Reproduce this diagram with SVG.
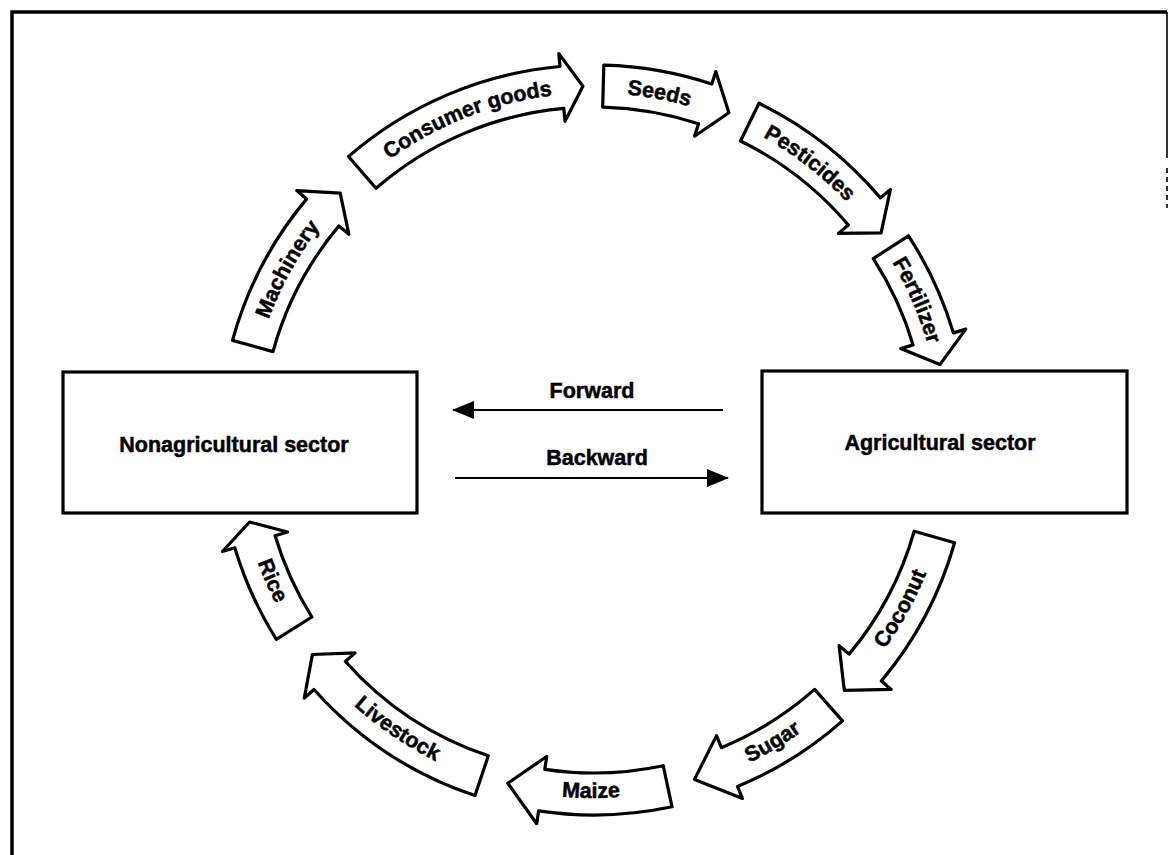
<svg xmlns="http://www.w3.org/2000/svg" xmlns:xlink="http://www.w3.org/1999/xlink" width="1169" height="855" viewBox="0 0 1169 855">
<style>
.frame{fill:none;stroke:#000;stroke-width:3.5}
.thin{fill:none;stroke:#000;stroke-width:1.6}
.box{fill:#fff;stroke:#000;stroke-width:3.2}
.arrow{fill:#fff;stroke:#000;stroke-width:3.2;stroke-linejoin:round}
.lbl{font-family:"Liberation Sans",Arial,sans-serif;font-weight:bold;font-size:21.5px;fill:#000;stroke:#000;stroke-width:0.5}
.link{fill:none;stroke:#000;stroke-width:2.2}
</style>
<defs>
<marker id="head" viewBox="0 0 22 18" refX="21" refY="9" markerWidth="22" markerHeight="18" markerUnits="userSpaceOnUse" orient="auto">
<path d="M0,0 L22,9 L0,18 Z" fill="#000"/>
</marker>
<path id="tp-mach" d="M247.9,415.2 A347,347 0 0 1 390.5,158.9"/>
<path id="tp-cons" d="M342.3,201.1 A347,347 0 0 1 615.2,93.7"/>
<path id="tp-seed" d="M508.3,103.8 A347,347 0 0 1 796.5,158.2"/>
<path id="tp-pest" d="M671.8,101.8 A347,347 0 0 1 903.0,282.2"/>
<path id="tp-fert" d="M824.4,180.5 A347,347 0 0 1 940.9,449.7"/>
<path id="tp-coco" d="M805.4,728.9 A358,358 0 0 0 951.2,463.7"/>
<path id="tp-suga" d="M628.9,796.3 A358,358 0 0 0 889.4,642.3"/>
<path id="tp-maiz" d="M439.9,763.1 A358,358 0 0 0 742.5,765.8"/>
<path id="tp-live" d="M286.5,623.3 A358,358 0 0 0 536.8,793.4"/>
<path id="tp-rice" d="M236.1,431.3 A358,358 0 0 0 357.3,708.5"/>
</defs>
<rect width="1169" height="855" fill="#fff"/>
<g id="frame">
<path class="frame" d="M12,855 V12 H1167"/>
<path class="thin" d="M1167,12 V158"/>
<path class="thin" d="M1167,168 V208" stroke-dasharray="5,4"/>
</g>
<g id="nonagricultural-sector">
<rect class="box" x="63" y="372" width="354" height="141"/>
<text class="lbl" x="234" y="452" text-anchor="middle">Nonagricultural sector</text>
</g>
<g id="agricultural-sector">
<rect class="box" x="762" y="371" width="365" height="142"/>
<text class="lbl" x="940" y="450" text-anchor="middle">Agricultural sector</text>
</g>
<g id="connectors">
<line class="link" x1="723" y1="410" x2="453" y2="410" marker-end="url(#head)"/>
<text class="lbl" x="592" y="398" text-anchor="middle">Forward</text>
<line class="link" x1="455" y1="478" x2="728" y2="478" marker-end="url(#head)"/>
<text class="lbl" x="597" y="465" text-anchor="middle">Backward</text>
</g>
<g id="machinery">
<path class="arrow" d="M232.5,340.4 A375,375 0 0 1 306.7,198.9 L296.8,190.6 L340.2,193.2 L348.9,234.3 L338.9,225.9 A333,333 0 0 0 273.0,351.6 Z"/>
<text class="lbl"><textPath xlink:href="#tp-mach" startOffset="50%" text-anchor="middle">Machinery</textPath></text>
</g>
<g id="consumer-goods">
<path class="arrow" d="M348.5,156.5 A375,375 0 0 1 560.0,66.5 L558.8,53.6 L582.9,86.2 L565.0,121.3 L563.8,108.4 A333,333 0 0 0 376.0,188.3 Z"/>
<text class="lbl"><textPath xlink:href="#tp-cons" startOffset="50%" text-anchor="middle">Consumer goods</textPath></text>
</g>
<g id="seeds">
<path class="arrow" d="M603.8,65.1 A375,375 0 0 1 711.8,84.0 L715.8,71.6 L728.9,112.7 L694.5,136.2 L698.6,123.8 A333,333 0 0 0 602.7,107.1 Z"/>
<text class="lbl"><textPath xlink:href="#tp-seed" startOffset="50%" text-anchor="middle">Seeds</textPath></text>
</g>
<g id="pesticides">
<path class="arrow" d="M759.0,103.2 A375,375 0 0 1 880.4,197.9 L890.4,189.5 L881.1,232.9 L838.4,233.4 L848.3,225.0 A333,333 0 0 0 740.5,141.0 Z"/>
<text class="lbl"><textPath xlink:href="#tp-pest" startOffset="50%" text-anchor="middle">Pesticides</textPath></text>
</g>
<g id="fertilizer">
<path class="arrow" d="M908.5,235.8 A375,375 0 0 1 953.4,332.9 L965.8,329.1 L939.9,364.6 L900.7,348.6 L913.1,344.9 A333,333 0 0 0 873.3,258.6 Z"/>
<text class="lbl"><textPath xlink:href="#tp-fert" startOffset="50%" text-anchor="middle">Fertilizer</textPath></text>
</g>
<g id="coconut">
<path class="arrow" d="M954.6,542.8 A375,375 0 0 1 881.3,681.1 L891.2,689.4 L844.3,690.3 L839.1,645.7 L849.1,654.1 A333,333 0 0 0 914.2,531.2 Z"/>
<text class="lbl"><textPath xlink:href="#tp-coco" startOffset="50%" text-anchor="middle">Coconut</textPath></text>
</g>
<g id="sugar">
<path class="arrow" d="M842.5,720.9 A375,375 0 0 1 737.5,786.5 L742.5,798.5 L694.5,779.4 L716.5,735.6 L721.4,747.7 A333,333 0 0 0 814.6,689.4 Z"/>
<text class="lbl"><textPath xlink:href="#tp-suga" startOffset="50%" text-anchor="middle">Sugar</textPath></text>
</g>
<g id="maize">
<path class="arrow" d="M672.0,806.8 A375,375 0 0 1 538.6,810.9 L536.7,823.7 L507.8,783.3 L546.7,756.5 L544.8,769.3 A333,333 0 0 0 663.2,765.7 Z"/>
<text class="lbl"><textPath xlink:href="#tp-maiz" startOffset="50%" text-anchor="middle">Maize</textPath></text>
</g>
<g id="livestock">
<path class="arrow" d="M475.0,795.6 A375,375 0 0 1 314.0,689.5 L304.3,698.1 L312.4,654.5 L355.1,652.9 L345.4,661.5 A333,333 0 0 0 488.3,755.8 Z"/>
<text class="lbl"><textPath xlink:href="#tp-live" startOffset="50%" text-anchor="middle">Livestock</textPath></text>
</g>
<g id="rice">
<path class="arrow" d="M276.3,639.3 A375,375 0 0 1 234.8,547.8 L222.4,551.5 L249.6,522.0 L287.5,532.0 L275.1,535.7 A333,333 0 0 0 311.9,617.0 Z"/>
<text class="lbl"><textPath xlink:href="#tp-rice" startOffset="50%" text-anchor="middle">Rice</textPath></text>
</g>
</svg>
